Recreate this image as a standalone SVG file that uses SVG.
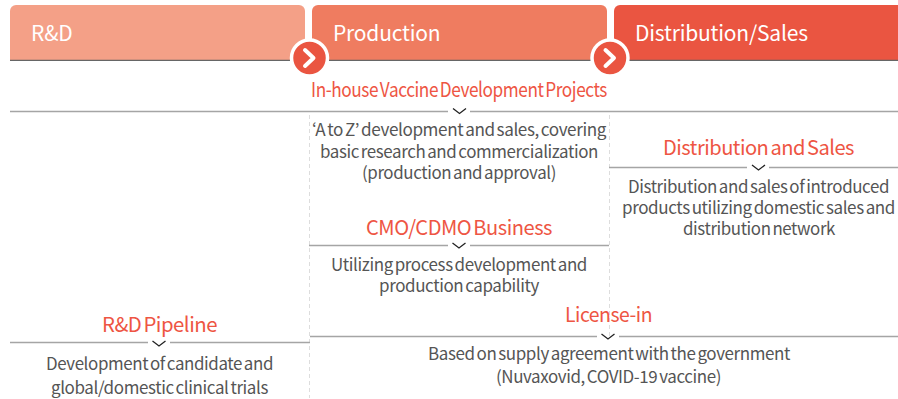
<svg xmlns="http://www.w3.org/2000/svg" width="898" height="399" viewBox="0 0 898 399">
<style>
text{font-family:"Noto Sans CJK KR","Noto Sans",sans-serif;text-anchor:middle}
.h{font-size:21px;fill:#fff;text-anchor:start;letter-spacing:-.2px}
.t{font-size:20.500px;fill:#ee5543;letter-spacing:-.5px;word-spacing:-2px}
.d{font-size:17px;fill:#555;letter-spacing:-.4px;word-spacing:-1.500px}
.l{stroke:#a5a5a5;stroke-width:1.300;fill:none}
.v{stroke:#ddd;stroke-width:1;stroke-dasharray:4 3;fill:none}
.c{stroke:#222;stroke-width:1.300;fill:none}
.b{fill:#ea5541;stroke:#fff;stroke-width:3.500}
.a{stroke:#fff;stroke-width:4;fill:none;stroke-linecap:round;stroke-linejoin:round}
</style>
<g id="connectors">
<path class="v" d="M309.500 115V398M609.500 115V336"/>
<path class="l" d="M10 111.500H448M470 111.500H898M609 167.500H747M769 167.500H898M309 245.500H448M470 245.500H609M310 336.500H597M619 336.500H898M10 342.500H148M170 342.500H310"/>
<path class="c" d="M453 108.500L459.500 113.500L466 108.500M752 165L758.500 170L765 165M452.500 243L459 248L465.500 243M601.500 334L608 339L614.500 334M152.500 341L159 346L165.500 341"/>
</g>
<g id="hdr-rd"><path fill="#f4a087" d="M10 60V11a6 6 0 0 1 6-6H299a6 6 0 0 1 6 6V60Z"/><path d="M10 60.300H305" stroke="#666" stroke-width="1.300"/><text class="h" x="31" y="41">R&amp;D</text></g>
<g id="hdr-production"><path fill="#ef7c60" d="M312 60V11a6 6 0 0 1 6-6H601a6 6 0 0 1 6 6V60Z"/><path d="M312 60.300H607" stroke="#666" stroke-width="1.300"/><text class="h" x="333" y="41">Production</text></g>
<g id="hdr-sales"><path fill="#ea5541" d="M614 60V11a6 6 0 0 1 6-6H898V60Z"/><path d="M614 60.300H898" stroke="#666" stroke-width="1.300"/><text class="h" x="635" y="41">Distribution/Sales</text></g>
<g id="btn-1"><circle class="b" cx="309.500" cy="58" r="18"/><path class="a" d="M305 50L313.500 58L305 66"/></g>
<g id="btn-2"><circle class="b" cx="610" cy="58" r="18"/><path class="a" d="M605.500 50L614 58L605.500 66"/></g>
<g id="node-inhouse"><text class="t" x="459" y="97" textLength="296" lengthAdjust="spacingAndGlyphs">In-house Vaccine Development Projects</text>
<text class="d" x="459" y="136" textLength="294" lengthAdjust="spacingAndGlyphs">‘A to Z’ development and sales, covering</text><text class="d" x="459" y="158" textLength="278" lengthAdjust="spacingAndGlyphs">basic research and commercialization</text><text class="d" x="459" y="179" textLength="194" lengthAdjust="spacingAndGlyphs">(production and approval)</text></g>
<g id="node-distribution"><text class="t" x="758.500" y="155" textLength="191" lengthAdjust="spacingAndGlyphs">Distribution and Sales</text>
<text class="d" x="758.500" y="193" textLength="261" lengthAdjust="spacingAndGlyphs">Distribution and sales of introduced</text><text class="d" x="758.500" y="214" textLength="273" lengthAdjust="spacingAndGlyphs">products utilizing domestic sales and</text><text class="d" x="759" y="235" textLength="152" lengthAdjust="spacingAndGlyphs">distribution network</text></g>
<g id="node-cmo"><text class="t" x="459" y="235" textLength="186" lengthAdjust="spacingAndGlyphs">CMO/CDMO Business</text>
<text class="d" x="459" y="271" textLength="256" lengthAdjust="spacingAndGlyphs">Utilizing process development and</text><text class="d" x="459" y="292" textLength="160" lengthAdjust="spacingAndGlyphs">production capability</text></g>
<g id="node-license"><text class="t" x="608.500" y="322" textLength="87" lengthAdjust="spacingAndGlyphs">License-in</text>
<text class="d" x="609" y="360" textLength="362" lengthAdjust="spacingAndGlyphs">Based on supply agreement with the government</text><text class="d" x="608.500" y="383" textLength="225" lengthAdjust="spacingAndGlyphs">(Nuvaxovid, COVID-19 vaccine)</text></g>
<g id="node-rd"><text class="t" x="159.500" y="332" textLength="115" lengthAdjust="spacingAndGlyphs">R&amp;D Pipeline</text>
<text class="d" x="159.500" y="370" textLength="227" lengthAdjust="spacingAndGlyphs">Development of candidate and</text><text class="d" x="159.500" y="394" textLength="217" lengthAdjust="spacingAndGlyphs">global/domestic clinical trials</text></g>
</svg>
